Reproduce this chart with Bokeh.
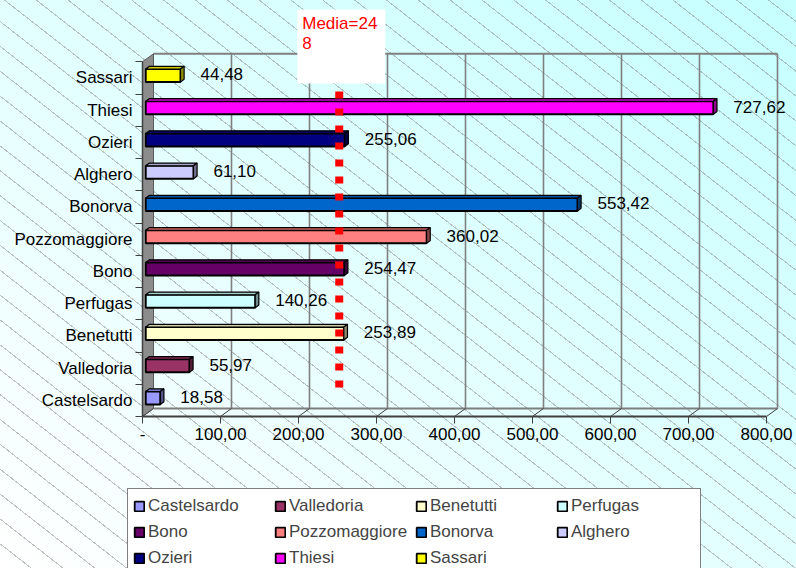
import numpy as np
from bokeh.plotting import figure
from bokeh.models import ColumnDataSource, Range1d, FixedTicker, Legend, LegendItem
from bokeh.embed import file_html
from bokeh.resources import INLINE
from bokeh.core.properties import value

# ---------------- data ----------------
categories = ["Castelsardo", "Valledoria", "Benetutti", "Perfugas", "Bono",
              "Pozzomaggiore", "Bonorva", "Alghero", "Ozieri", "Thiesi", "Sassari"]
values = [18.58, 55.97, 253.89, 140.26, 254.47, 360.02, 553.42, 61.10, 255.06, 727.62, 44.48]
colors = ["#9999FF", "#993366", "#FFFFCC", "#CCFFFF", "#660066", "#FF8080",
          "#0066CC", "#CCCCFF", "#000080", "#FF00FF", "#FFFF00"]
x_ticks = [0, 100, 200, 300, 400, 500, 600, 700, 800]
x_tick_labels = ["-", "100,00", "200,00", "300,00", "400,00", "500,00", "600,00", "700,00", "800,00"]
media = 248
media_lines = ["Media=24", "8"]

# ---------------- geometry (styles) ----------------
W, H = 796, 568
ORIG_X, ORIG_Y = 142, 416    # canvas pixel of the front-bottom-left plot corner
PXX = 800 / 624.0            # data units per pixel (x)
PXY = 1 / 32.25              # data units per pixel (y)
DX, DY = 11 * PXX, 8 * PXY   # 3D depth offset
TB0, TB1 = 0.30, 0.63        # bar front / back depth
HB = 6.5 * PXY
n = len(categories)
FONT = "Liberation Sans"
FS = "17px"


def ydat(py):
    return -0.5 + (ORIG_Y - py) * PXY


def shade(c, f):
    c = c.lstrip("#")
    r, g, b = (int(c[k:k + 2], 16) for k in (0, 2, 4))
    return "#%02x%02x%02x" % (int(r * f), int(g * f), int(b * f))


hatch = ("repeating-linear-gradient(38deg, rgba(0,0,0,0) 0px, rgba(0,0,0,0) 18.6px, "
         "rgba(120,120,120,0.45) 18.6px, rgba(120,120,120,0.45) 19.6px)")
grad = "linear-gradient(to top right, #FFFFFF 0%, #E2FFFF 50%, #C6FFFF 100%)"

p = figure(width=W, height=H, output_backend="svg", toolbar_location=None, title=None,
           x_range=Range1d(-ORIG_X * PXX, (W - ORIG_X) * PXX),
           y_range=Range1d(ydat(H), ydat(0)),
           min_border=0, min_border_left=0, min_border_right=0,
           min_border_top=0, min_border_bottom=0)
p.background_fill_color = None
p.border_fill_color = None
p.outline_line_color = None
p.styles = {"background": hatch + ", " + grad}
p.xgrid.grid_line_color = None
p.ygrid.grid_line_color = None

# ---------------- axes (kept in their side panels, drawn at fixed data positions) ----------------
xa = p.xaxis[0]
xa.fixed_location = -0.5
xa.ticker = FixedTicker(ticks=x_ticks)
xa.major_label_overrides = {t: l for t, l in zip(x_ticks, x_tick_labels)}
xa.bounds = (0, 800)
xa.axis_line_color = "#404040"
xa.axis_line_width = 2
xa.major_tick_out = 7
xa.major_tick_in = 0
xa.major_tick_line_color = "#404040"
xa.minor_tick_line_color = None
xa.major_label_text_font = FONT
xa.major_label_text_font_size = FS
xa.major_label_text_color = "black"
xa.major_label_standoff = 4

ya = p.yaxis[0]
ya.fixed_location = 0
ya.ticker = FixedTicker(ticks=list(range(n)), minor_ticks=[i - 0.5 for i in range(n + 1)])
ya.major_label_overrides = {i: c for i, c in enumerate(categories)}
ya.bounds = (-0.5, n - 0.5)
ya.axis_line_color = "#404040"
ya.axis_line_width = 1.5
ya.major_tick_out = 7
ya.major_tick_in = 0
ya.major_tick_line_color = None
ya.minor_tick_out = 7
ya.minor_tick_in = 0
ya.minor_tick_line_color = "#404040"
ya.major_label_text_font = FONT
ya.major_label_text_font_size = FS
ya.major_label_text_color = "black"
ya.major_label_standoff = 3

# ---------------- walls / grid ----------------
top_y = n - 0.5
p.patch([0, 0, DX, DX], [-0.5, top_y, top_y + DY, -0.5 + DY],
        fill_color="#8C8C8C", line_color="#5A5A5A", line_width=1)
gx = [t + DX for t in x_ticks[1:]]
p.segment(x0=gx, y0=[-0.5 + DY] * len(gx), x1=gx, y1=[top_y + DY] * len(gx),
          line_color="#7F7F7F", line_width=1.6)
p.segment(x0=[DX, DX], y0=[top_y + DY, -0.5 + DY], x1=[800 + DX, 800 + DX],
          y1=[top_y + DY, -0.5 + DY], line_color="#7F7F7F", line_width=2)
p.segment(x0=x_ticks, y0=[-0.5] * len(x_ticks), x1=[t + DX for t in x_ticks],
          y1=[-0.5 + DY] * len(x_ticks), line_color="#404040", line_width=1)

# ---------------- bars ----------------
ys = np.arange(n, dtype=float)
x0 = TB0 * DX
x1 = np.array(values) + TB0 * DX
yb = ys - HB + TB0 * DY
yt = ys + HB + TB0 * DY
bdx = (TB1 - TB0) * DX
bdy = (TB1 - TB0) * DY

src = ColumnDataSource(dict(left=[x0] * n, right=x1, bottom=yb, top=yt, color=colors))
front = p.quad(left="left", right="right", bottom="bottom", top="top", source=src,
               fill_color="color", line_color="black", line_width=1.8)

top_src = ColumnDataSource(dict(
    xs=[[x0, a, a + bdx, x0 + bdx] for a in x1],
    ys=[[t, t, t + bdy, t + bdy] for t in yt],
    color=[shade(c, 0.8) for c in colors]))
p.patches("xs", "ys", source=top_src, fill_color="color", line_color="black", line_width=1.2)
side_src = ColumnDataSource(dict(
    xs=[[a, a + bdx, a + bdx, a] for a in x1],
    ys=[[b, b + bdy, t + bdy, t] for b, t in zip(yb, yt)],
    color=[shade(c, 0.55) for c in colors]))
p.patches("xs", "ys", source=side_src, fill_color="color", line_color="black", line_width=1.2)

# ---------------- media line ----------------
mx = media + TB0 * DX
p.line(x=[mx, mx], y=[ydat(387), top_y], line_color="#FF0000", line_width=8,
       line_dash="7 10", line_cap="butt")
p.quad(left=[mx - 42 * PXX], right=[mx + 46 * PXX], bottom=[ydat(83)], top=[ydat(9)],
       fill_color="white", line_color=None)
p.text(x=[mx - 37 * PXX] * 2, y=[ydat(22.5), ydat(42.5)], text=media_lines,
       text_font=value(FONT), text_font_size=FS, text_color="#FF0000",
       text_baseline="middle", text_align="left")

# ---------------- data labels ----------------
lbl = [("%.2f" % v).replace(".", ",") for v in values]
p.text(x=x1 + 20 * PXX, y=ys + 0.11, text=lbl, text_font=value(FONT),
       text_font_size=FS, text_color="black", text_baseline="middle", text_align="left")

# ---------------- legend ----------------
items = [LegendItem(label=c, renderers=[front], index=i) for i, c in enumerate(categories)]
legend = Legend(items=items, orientation="horizontal", ncols=4, location=(127, -8),
                padding=5, spacing=2, margin=0, label_width=124, label_height=24,
                glyph_width=12, glyph_height=12, label_standoff=3,
                label_text_font=FONT, label_text_font_size=FS,
                border_line_color="black", border_line_width=1,
                background_fill_color="white", background_fill_alpha=1.0)
p.add_layout(legend)

open("out.html", "w").write(file_html(p, INLINE))
